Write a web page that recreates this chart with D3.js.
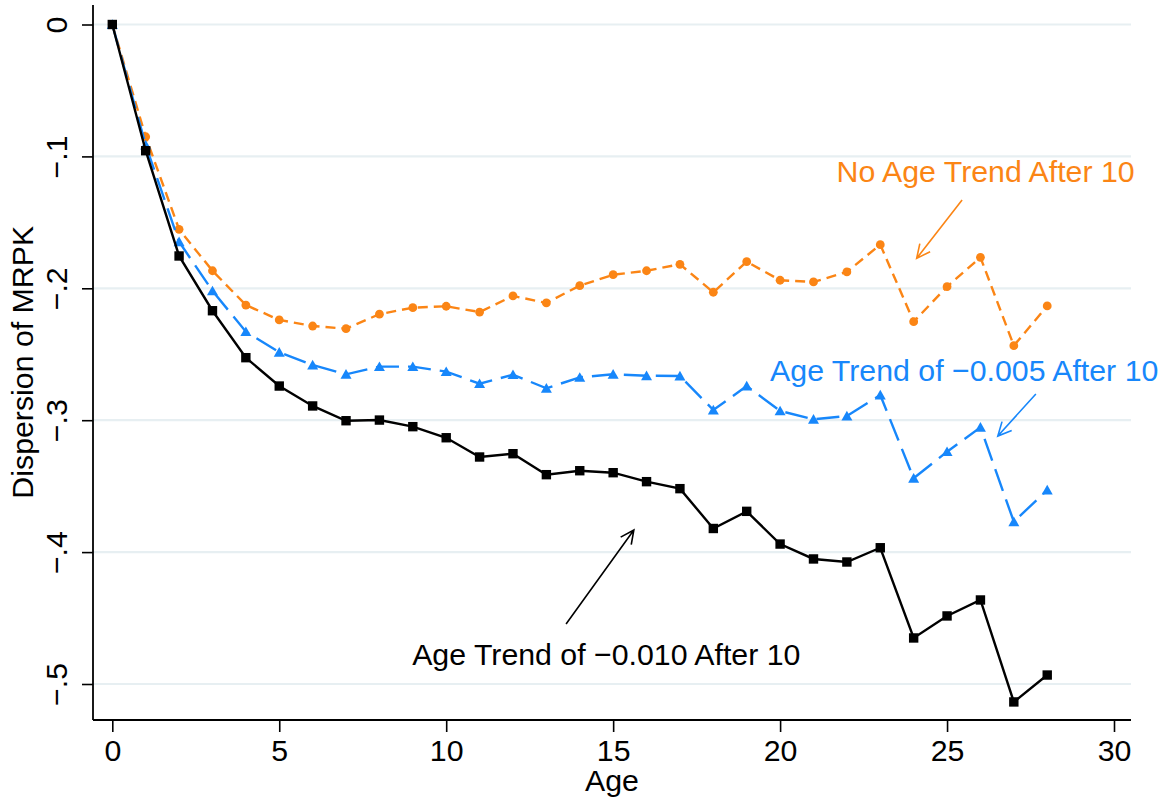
<!DOCTYPE html>
<html>
<head>
<meta charset="utf-8">
<script src="https://cdn.jsdelivr.net/npm/d3@7"></script>
<style>
  html, body { margin: 0; padding: 0; background: #ffffff; }
  svg { display: block; font-family: "Liberation Sans", Arial, Helvetica, sans-serif; }
</style>
</head>
<body>
<svg id="chart" width="1161" height="802"></svg>
<script>
// Firm age (years)
const ages = d3.range(0, 29);

// Dispersion of MRPK relative to age 0, one series per assumed age trend
const noTrend = [0, -0.0851, -0.1553, -0.1867, -0.2127, -0.2240, -0.2286, -0.2306, -0.2196, -0.2147,
  -0.2136, -0.2180, -0.2058, -0.2111, -0.1980, -0.1897, -0.1867, -0.1818, -0.2030, -0.1798,
  -0.1939, -0.1952, -0.1876, -0.1669, -0.2253, -0.1988, -0.1765, -0.2435, -0.2134];

const trend005 = [0, -0.0914, -0.1647, -0.2020, -0.2329, -0.2485, -0.2582, -0.2652, -0.2594, -0.2594,
  -0.2632, -0.2723, -0.2655, -0.2758, -0.2675, -0.2652, -0.2663, -0.2665, -0.2923, -0.2741,
  -0.2930, -0.2993, -0.2968, -0.2809, -0.3440, -0.3239, -0.3054, -0.3770, -0.3529];

const trend010 = [0, -0.0957, -0.1755, -0.2170, -0.2526, -0.2741, -0.2892, -0.3004, -0.2999, -0.3049,
  -0.3133, -0.3279, -0.3254, -0.3413, -0.3383, -0.3398, -0.3466, -0.3519, -0.3821, -0.3691,
  -0.3939, -0.4052, -0.4075, -0.3967, -0.4651, -0.4484, -0.4363, -0.5136, -0.4932];

// Axis ticks
const xTicks = [0, 5, 10, 15, 20, 25, 30];
const yTicks = [0, -0.1, -0.2, -0.3, -0.4, -0.5];
const yTickLabels = ["0", "\u2212.1", "\u2212.2", "\u2212.3", "\u2212.4", "\u2212.5"];

// Callout labels: text, anchor point (age, value), arrow tail and tip (age, value)
const labelTexts = ["No Age Trend After 10", "Age Trend of \u22120.005 After 10", "Age Trend of \u22120.010 After 10"];
const labelPos = [[21.69, -0.1196], [19.70, -0.2701], [8.98, -0.4856]];
const arrowTail = [[25.45, -0.1331], [27.66, -0.2801], [13.59, -0.4545]];
const arrowTip = [[24.09, -0.1773], [26.52, -0.3120], [15.62, -0.3832]];

const ORANGE = "#fb8515";
const BLUE = "#1787fb";
const BLACK = "#000000";
const FONT = "30.3px";

const svg = d3.select("#chart");
svg.append("rect").attr("width", 1161).attr("height", 802).attr("fill", "#ffffff");

// Plot region
const plotLeft = 93, plotRight = 1131, plotTop = 5, plotBottom = 720;

const x = d3.scaleLinear().domain([0, 30]).range([112.3, 1114]);
const y = d3.scaleLinear().domain([0, -0.5]).range([24.5, 684]);

// Horizontal gridlines
svg.append("g").selectAll("line").data(yTicks).join("line")
  .attr("x1", plotLeft).attr("x2", plotRight)
  .attr("y1", d => y(d)).attr("y2", d => y(d))
  .attr("stroke", "#e7eff2").attr("stroke-width", 2.2);

// Y axis
const yAxis = d3.axisLeft(y).tickValues(yTicks).tickSize(11)
  .tickFormat((d, i) => yTickLabels[i]);
const gy = svg.append("g").attr("transform", `translate(${plotLeft},0)`).call(yAxis);
gy.select(".domain").remove();
gy.selectAll(".tick line").attr("stroke", "#000").attr("stroke-width", 1.6);
gy.selectAll(".tick text")
  .attr("x", null).attr("dy", null)
  .attr("transform", "translate(-26,0) rotate(-90)")
  .attr("text-anchor", "middle")
  .attr("fill", "#000")
  .style("font-size", FONT);
svg.append("line").attr("x1", plotLeft).attr("x2", plotLeft)
  .attr("y1", plotTop).attr("y2", plotBottom)
  .attr("stroke", "#000").attr("stroke-width", 1.8);

// X axis
const xAxis = d3.axisBottom(x).tickValues(xTicks).tickSize(12).tickFormat(d3.format("d"));
const gx = svg.append("g").attr("transform", `translate(0,${plotBottom})`).call(xAxis);
gx.select(".domain").remove();
gx.selectAll(".tick line").attr("stroke", "#000").attr("stroke-width", 1.6);
gx.selectAll(".tick text")
  .attr("y", 41).attr("dy", null)
  .attr("fill", "#000")
  .style("font-size", FONT);
svg.append("line").attr("x1", plotLeft).attr("x2", plotRight)
  .attr("y1", plotBottom).attr("y2", plotBottom)
  .attr("stroke", "#000").attr("stroke-width", 1.8);

// Axis titles
svg.append("text")
  .attr("transform", `translate(33,${(24.5 + plotBottom) / 2 - 10}) rotate(-90)`)
  .attr("text-anchor", "middle").style("font-size", FONT).attr("fill", "#000")
  .text("Dispersion of MRPK");
svg.append("text")
  .attr("x", (plotLeft + plotRight) / 2).attr("y", 791)
  .attr("text-anchor", "middle").style("font-size", FONT).attr("fill", "#000")
  .text("Age");

// Series
const series = [
  { values: noTrend, color: ORANGE, dash: "10,6", marker: "circle" },
  { values: trend005, color: BLUE, dash: "23,9", marker: "triangle" },
  { values: trend010, color: BLACK, dash: null, marker: "square" }
];

const line = d3.line().x((d, i) => x(ages[i])).y(d => y(d));

series.forEach(s => {
  svg.append("path")
    .attr("d", line(s.values))
    .attr("fill", "none")
    .attr("stroke", s.color)
    .attr("stroke-width", 2.4)
    .attr("stroke-linejoin", "miter")
    .attr("stroke-dasharray", s.dash);

  const g = svg.append("g").attr("fill", s.color);
  s.values.forEach((v, i) => {
    const cx = x(ages[i]), cy = y(v);
    if (s.marker === "circle") {
      g.append("circle").attr("cx", cx).attr("cy", cy).attr("r", 4.4);
    } else if (s.marker === "square") {
      g.append("rect").attr("x", cx - 4.7).attr("y", cy - 4.7).attr("width", 9.4).attr("height", 9.4);
    } else {
      g.append("path").attr("d", `M${cx},${cy - 5.2} L${cx + 5.5},${cy + 4.4} L${cx - 5.5},${cy + 4.4} Z`);
    }
  });
});

// Callout labels with open arrowheads
const labelColors = [ORANGE, BLUE, BLACK];
labelTexts.forEach((t, i) => {
  const c = labelColors[i];
  svg.append("text")
    .attr("x", x(labelPos[i][0])).attr("y", y(labelPos[i][1]))
    .attr("fill", c).style("font-size", FONT)
    .text(t);

  const x0 = x(arrowTail[i][0]), y0 = y(arrowTail[i][1]);
  const x1 = x(arrowTip[i][0]), y1 = y(arrowTip[i][1]);
  const ang = Math.atan2(y1 - y0, x1 - x0);
  const len = 15, spread = 0.45;
  const a1 = [x1 - len * Math.cos(ang - spread), y1 - len * Math.sin(ang - spread)];
  const a2 = [x1 - len * Math.cos(ang + spread), y1 - len * Math.sin(ang + spread)];
  svg.append("path")
    .attr("d", `M${x0},${y0} L${x1},${y1} M${a1[0]},${a1[1]} L${x1},${y1} L${a2[0]},${a2[1]}`)
    .attr("fill", "none").attr("stroke", c).attr("stroke-width", 1.6);
});
</script>
</body>
</html>
